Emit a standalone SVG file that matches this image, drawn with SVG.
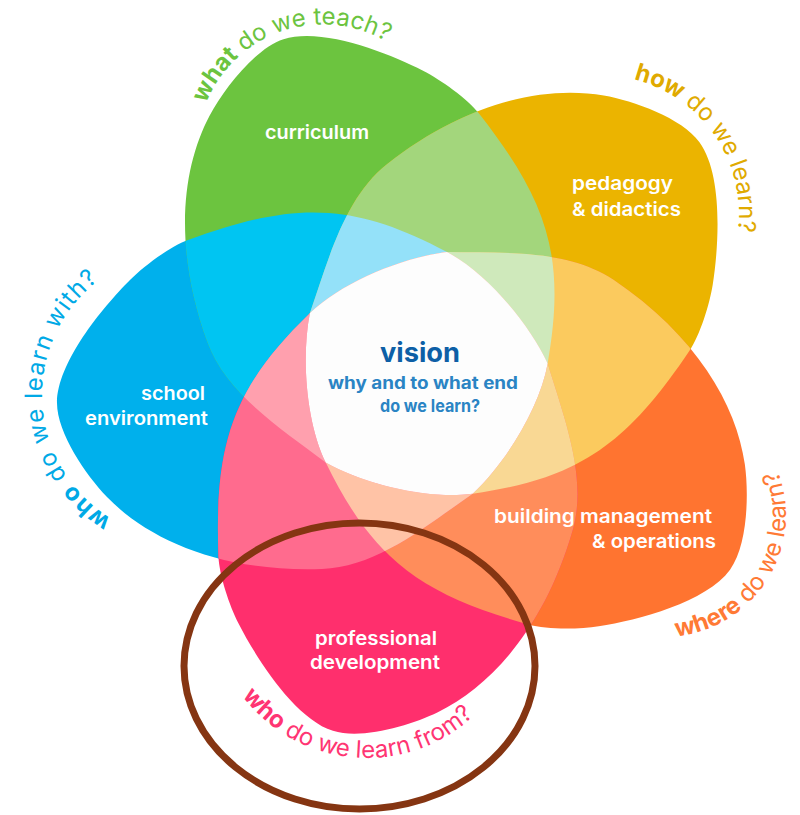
<svg xmlns="http://www.w3.org/2000/svg" width="800" height="815" viewBox="0 0 800 815">
<style>
.lbl{font-family:Inter,"Liberation Sans",sans-serif;font-weight:600;font-size:19px;fill:#ffffff}
.q{font-family:Inter,"Liberation Sans",sans-serif;font-size:24px;font-weight:400}
.b{font-weight:700}
.v{font-family:Inter,"Liberation Sans",sans-serif;font-weight:700}
</style>
<defs>
<path id="petal" d="M472.7,493.7 C427.4,525.1 377,567.1 322,569 C222,572.5 148.7,540.1 107,497 C86.2,475.4 57,433 57,403 C57,363 101.7,308.3 130,280 C144.1,265.9 170,246.6 188,240 C291.4,202.4 349.9,200.4 447,252 C486.7,273.1 528.7,322.7 547.7,363.5 C539.8,407.8 505.6,463 472.7,493.7 Z"/>
<clipPath id="c0"><use href="#petal"/></clipPath>
<clipPath id="c1"><use href="#petal" transform="rotate(72 420.6 377)"/></clipPath>
<clipPath id="c2"><use href="#petal" transform="rotate(144 420.6 377)"/></clipPath>
<clipPath id="c3"><use href="#petal" transform="rotate(216 420.6 377)"/></clipPath>
<clipPath id="c4"><use href="#petal" transform="rotate(288 420.6 377)"/></clipPath>
<path id="tpGreen" d="M204.4,107.3 A126,126 0 0 1 419.3,69.4"/>
<path id="tpYellow" d="M612.1,75.5 A139,139 0 0 1 730.6,261.5"/>
<path id="tpBlue" d="M125.7,526.4 A145,145 0 0 1 125.7,263.6"/>
<path id="tpOrange" d="M668.3,636.9 A122,122 0 0 0 763.9,445"/>
<path id="tpPink" d="M231.9,680 A156,156 0 0 0 494.8,691.5"/>
</defs>
<rect width="800" height="815" fill="#ffffff"/>
<g id="petals">
<use href="#petal" fill="#00b0ec"/>
<use href="#petal" transform="rotate(72 420.6 377)" fill="#6cc43f"/>
<use href="#petal" transform="rotate(144 420.6 377)" fill="#ebb400"/>
<use href="#petal" transform="rotate(216 420.6 377)" fill="#ff7430"/>
<use href="#petal" transform="rotate(288 420.6 377)" fill="#ff2f6d"/>
</g>
<g id="overlaps2">
<g clip-path="url(#c1)"><use href="#petal" fill="#00c5f2"/></g>
<g clip-path="url(#c2)"><use href="#petal" transform="rotate(72 420.6 377)" fill="#a3d67c"/></g>
<g clip-path="url(#c3)"><use href="#petal" transform="rotate(144 420.6 377)" fill="#fbca5e"/></g>
<g clip-path="url(#c4)"><use href="#petal" transform="rotate(216 420.6 377)" fill="#ff8d5b"/></g>
<g clip-path="url(#c0)"><use href="#petal" transform="rotate(288 420.6 377)" fill="#ff6b8e"/></g>
</g>
<g id="overlaps3">
<g clip-path="url(#c2)"><g clip-path="url(#c1)"><use href="#petal" fill="#94e1f9"/></g></g>
<g clip-path="url(#c3)"><g clip-path="url(#c2)"><use href="#petal" transform="rotate(72 420.6 377)" fill="#cfe9bb"/></g></g>
<g clip-path="url(#c4)"><g clip-path="url(#c3)"><use href="#petal" transform="rotate(144 420.6 377)" fill="#f9d894"/></g></g>
<g clip-path="url(#c0)"><g clip-path="url(#c4)"><use href="#petal" transform="rotate(216 420.6 377)" fill="#ffc3a6"/></g></g>
<g clip-path="url(#c1)"><g clip-path="url(#c0)"><use href="#petal" transform="rotate(288 420.6 377)" fill="#ffa0ae"/></g></g>
</g>
<g id="center-area">
<g clip-path="url(#c3)"><g clip-path="url(#c2)"><g clip-path="url(#c1)"><use href="#petal" fill="#fdfdfd"/></g></g></g>
</g>
<g id="connectors">
<ellipse cx="359.5" cy="666" rx="175.5" ry="143" fill="none" stroke="#853512" stroke-width="7"/>
</g>
<g id="curriculum">
<text class="lbl" x="265" y="139" textLength="104" lengthAdjust="spacingAndGlyphs">curriculum</text>
<text class="q" fill="#6cc43f"><textPath href="#tpGreen" startOffset="4"><tspan class="b">what</tspan> do we teach?</textPath></text>
</g>
<g id="pedagogy">
<text class="lbl" x="572" y="190" textLength="101" lengthAdjust="spacingAndGlyphs">pedagogy</text>
<text class="lbl" x="572" y="216" textLength="109" lengthAdjust="spacingAndGlyphs">&amp; didactics</text>
<text class="q" fill="#e0aa00"><textPath href="#tpYellow" startOffset="22"><tspan class="b">how</tspan> do we learn?</textPath></text>
</g>
<g id="school-environment">
<text class="lbl" x="141" y="400" textLength="64" lengthAdjust="spacingAndGlyphs">school</text>
<text class="lbl" x="85" y="425" textLength="123" lengthAdjust="spacingAndGlyphs">environment</text>
<text class="q" fill="#00a9e6" letter-spacing="1.2"><textPath href="#tpBlue" startOffset="16"><tspan class="b">who</tspan> do we learn with?</textPath></text>
</g>
<g id="building">
<text class="lbl" x="494" y="523" textLength="218" lengthAdjust="spacingAndGlyphs">building management</text>
<text class="lbl" x="592" y="548" textLength="124" lengthAdjust="spacingAndGlyphs">&amp; operations</text>
<text class="q" fill="#ff7a35"><textPath href="#tpOrange" startOffset="8"><tspan class="b">where</tspan> do we learn?</textPath></text>
</g>
<g id="professional-development">
<text class="lbl" x="315" y="645" textLength="122" lengthAdjust="spacingAndGlyphs">professional</text>
<text class="lbl" x="310" y="669" textLength="130" lengthAdjust="spacingAndGlyphs">development</text>
<text class="q" fill="#ff3573"><textPath href="#tpPink" startOffset="19"><tspan class="b">who</tspan> do we learn from?</textPath></text>
</g>
<g id="vision">
<text class="v" x="380" y="362" font-size="27" fill="#0d5fa6" textLength="80" lengthAdjust="spacingAndGlyphs">vision</text>
<text class="v" x="328" y="389" font-size="17" fill="#2a84c4" textLength="190" lengthAdjust="spacingAndGlyphs">why and to what end</text>
<text class="v" x="380" y="412" font-size="17" fill="#2a84c4" textLength="100" lengthAdjust="spacingAndGlyphs">do we learn?</text>
</g>
</svg>
